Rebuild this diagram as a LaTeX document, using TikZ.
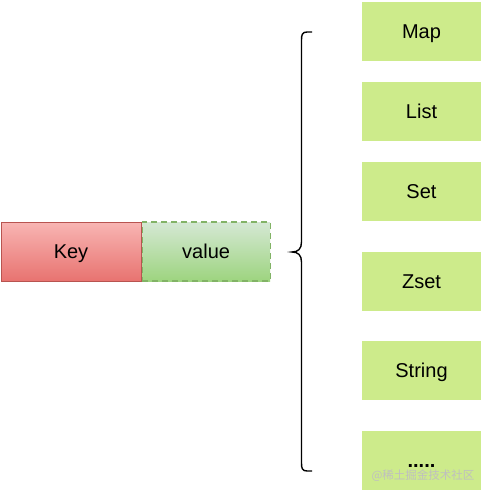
\documentclass[tikz,border=0pt]{standalone}
\usepackage{fontspec}
\setmainfont{Liberation Sans}
\newfontfamily\cjk{Noto Sans CJK SC}
\definecolor{boxgreen}{HTML}{CDEB8B}
\definecolor{keytop}{HTML}{F8B5B3}
\definecolor{keybot}{HTML}{E87370}
\definecolor{keyline}{HTML}{B85450}
\definecolor{valtop}{HTML}{D5E8D4}
\definecolor{valbot}{HTML}{9DD47F}
\definecolor{valline}{HTML}{82B366}
\tikzset{
  lbl/.style={font=\fontsize{20}{22}\selectfont, text height=14.3pt, text depth=0pt},
  typebox/.style={lbl, fill=boxgreen, draw=none, minimum width=119pt, minimum height=59pt, inner sep=0pt},
  keybox/.style={lbl, draw=keyline, line width=1pt, top color=keytop, bottom color=keybot, minimum width=140pt, minimum height=59pt, inner sep=0pt},
  valbox/.style={lbl, draw=valline, dash pattern=on 6pt off 4pt, line width=1.2pt, top color=valtop, bottom color=valbot, minimum width=128pt, minimum height=59pt, inner sep=0pt},
  bracepath/.style={draw=black, line width=1.4pt}
}
\begin{document}
\begin{tikzpicture}[x=1pt,y=-1pt]
\useasboundingbox (0,0) rectangle (482,492);
\node[keybox] (key) at (71,251.5) {Key};
\node[valbox, anchor=west] (val) at (key.east) {value};
\node[typebox] (map) at (421.5,31.5) {Map};
\node[typebox] (list) at (421.5,111.5) {List};
\node[typebox] (set) at (421.5,191.5) {Set};
\node[typebox] (zset) at (421.5,281.5) {Zset};
\node[typebox] (string) at (421.5,370.5) {String};
\node[typebox] (more) at (421.5,460) {\textbf{.....}};
\node[text=gray!50, font=\cjk\fontsize{11.5}{13}\selectfont, inner sep=0pt] (wm) at (423,476) {@稀土掘金技术社区};
\coordinate (bt) at (312,32);
\coordinate (bm) at (292,252);
\coordinate (bb) at (312,471);
\draw[bracepath] (bt) -- (307,32) .. controls (302,32) and (301.5,35) .. (301.5,40)
  -- (301.5,242) .. controls (301.5,249) and (298,252) .. (bm)
  .. controls (298,252) and (301.5,255) .. (301.5,262)
  -- (301.5,463) .. controls (301.5,468) and (302,471) .. (307,471) -- (bb);
\end{tikzpicture}
\end{document}
